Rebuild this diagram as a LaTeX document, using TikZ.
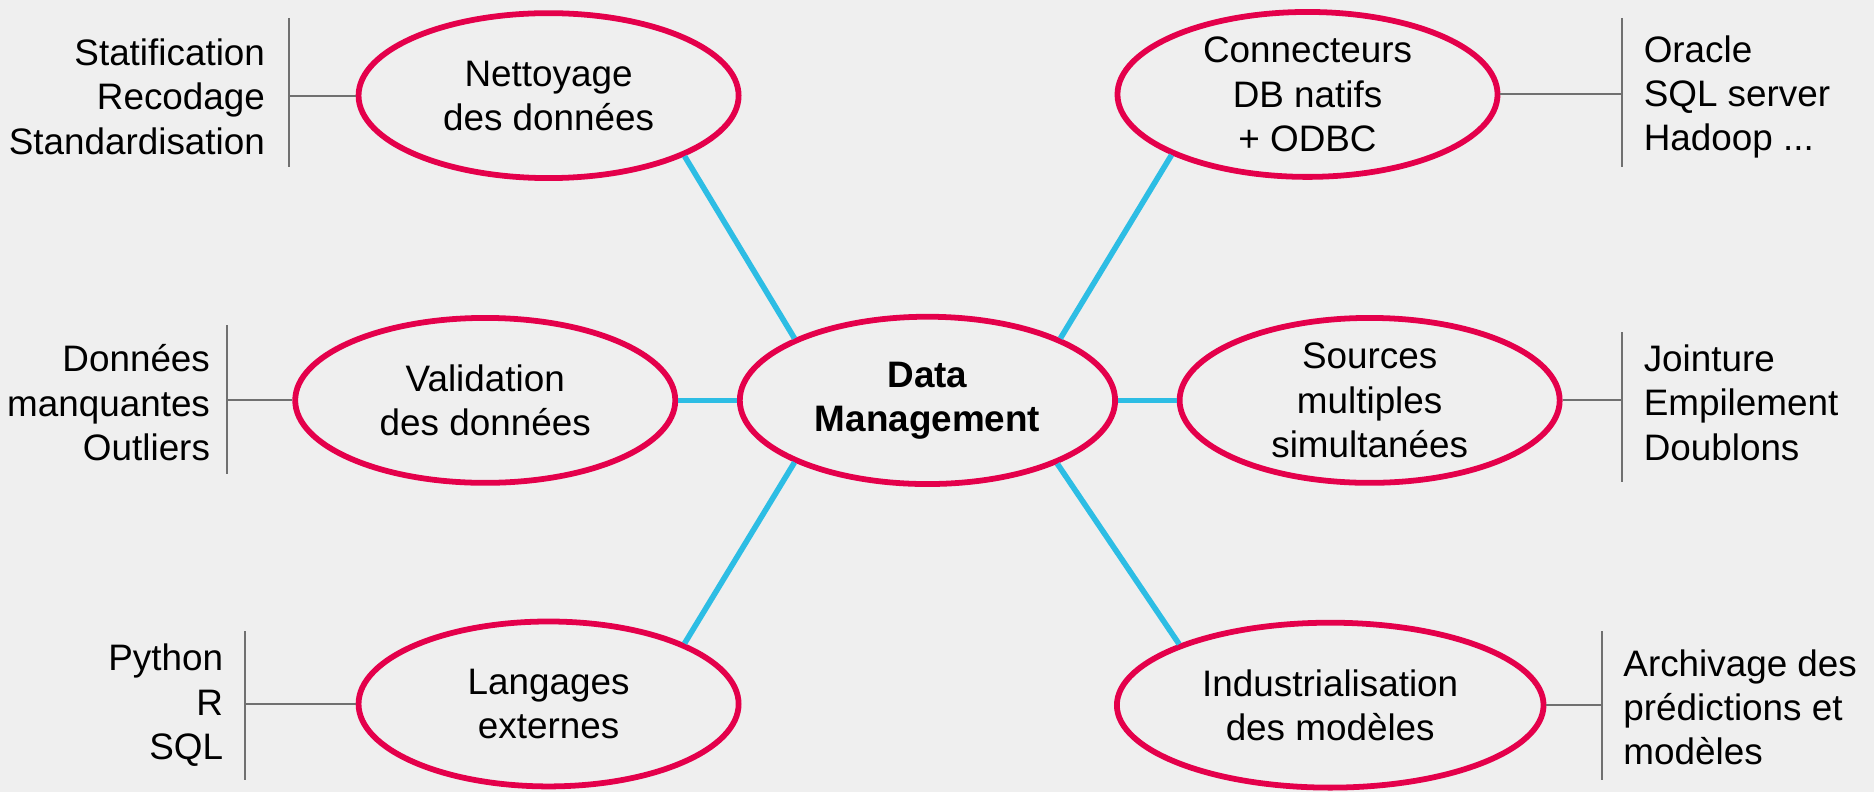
\documentclass[tikz,border=0pt]{standalone}
\usepackage{fontspec}
\setmainfont{Liberation Sans}
\usetikzlibrary{shapes.geometric}
\definecolor{bg}{HTML}{EFEFEF}
\definecolor{bubred}{HTML}{E4004B}
\definecolor{linkblue}{HTML}{2DBDE4}
\definecolor{brkgray}{HTML}{707070}
\begin{document}
\begin{tikzpicture}[x=0.6pt,y=-0.6pt,
  txt/.style={font=\fontsize{18.5}{22.2}\selectfont},
  bub/.style={ellipse, draw=bubred, line width=2.9pt, minimum width=190.8pt,
    minimum height=82.8pt, inner xsep=0pt, inner ysep=-6pt, align=center, txt},
  side/.style={inner sep=0pt, txt},
  link/.style={draw=linkblue, line width=2.8pt},
  brk/.style={draw=brkgray, line width=1pt}]
\fill[bg] (0,0) rectangle (1568,663);
\useasboundingbox (0,0) rectangle (1568,663);

% bubbles
\node[bub] (net)  at (459,80)  {Nettoyage\\des données};
\node[bub] (conn) at (1094,79) {Connecteurs\\DB natifs\\+ ODBC};
\node[bub] (val)  at (406,335) {Validation\\des données};
\node[bub, minimum width=188.4pt, minimum height=84pt] (dm) at (776,335) {\textbf{Data}\\\textbf{Management}\vphantom{Dg}};
\node[bub] (src)  at (1146,335) {Sources\\multiples\\simultanées};
\node[bub] (lang) at (459,589) {Langages\\externes};
\node[bub, minimum width=214.2pt] (ind) at (1113,590) {Industrialisation\\des modèles};

% blue links
\draw[link] (dm.155) -- (net.-24);
\draw[link] (dm.25) -- (conn.204);
\draw[link] (dm.west) -- (val.east);
\draw[link] (dm.east) -- (src.west);
\draw[link] (dm.205) -- (lang.24);
\draw[link] (dm.-26) -- (ind.158);

% side texts
\node[side, anchor=east, align=right] (tnet) at (222,81) {Statification\\Recodage\\Standardisation};
\node[side, anchor=east, align=right] (tval) at (176,337) {Données\\manquantes\\Outliers};
\node[side, anchor=east, align=right] (tlang) at (187,590) {Python\\R\\SQL};
\node[side, anchor=west, align=left] (tconn) at (1375,81) {Oracle\\SQL server\\Hadoop ...};
\node[side, anchor=west, align=left] (tsrc) at (1375,337) {Jointure\\Empilement\\Doublons};
\node[side, anchor=west, align=left] (tind) at (1358,592) {Archivage des\\prédictions et\\modèles};

% brackets
\coordinate (bnet) at (242,80);   \coordinate (bnet1) at (242,15);   \coordinate (bnet2) at (242,140);
\coordinate (bval) at (190,335);  \coordinate (bval1) at (190,272);  \coordinate (bval2) at (190,397);
\coordinate (blang) at (205,589); \coordinate (blang1) at (205,528); \coordinate (blang2) at (205,653);
\coordinate (bconn) at (1357,79); \coordinate (bconn1) at (1357,15); \coordinate (bconn2) at (1357,140);
\coordinate (bsrc) at (1357,335); \coordinate (bsrc1) at (1357,278); \coordinate (bsrc2) at (1357,403);
\coordinate (bind) at (1340,590); \coordinate (bind1) at (1340,528); \coordinate (bind2) at (1340,653);

\draw[brk] (net.west) -- (bnet);   \draw[brk] (bnet1) -- (bnet2);
\draw[brk] (val.west) -- (bval);   \draw[brk] (bval1) -- (bval2);
\draw[brk] (lang.west) -- (blang); \draw[brk] (blang1) -- (blang2);
\draw[brk] (conn.east) -- (bconn); \draw[brk] (bconn1) -- (bconn2);
\draw[brk] (src.east) -- (bsrc);   \draw[brk] (bsrc1) -- (bsrc2);
\draw[brk] (ind.east) -- (bind);   \draw[brk] (bind1) -- (bind2);
\end{tikzpicture}
\end{document}
